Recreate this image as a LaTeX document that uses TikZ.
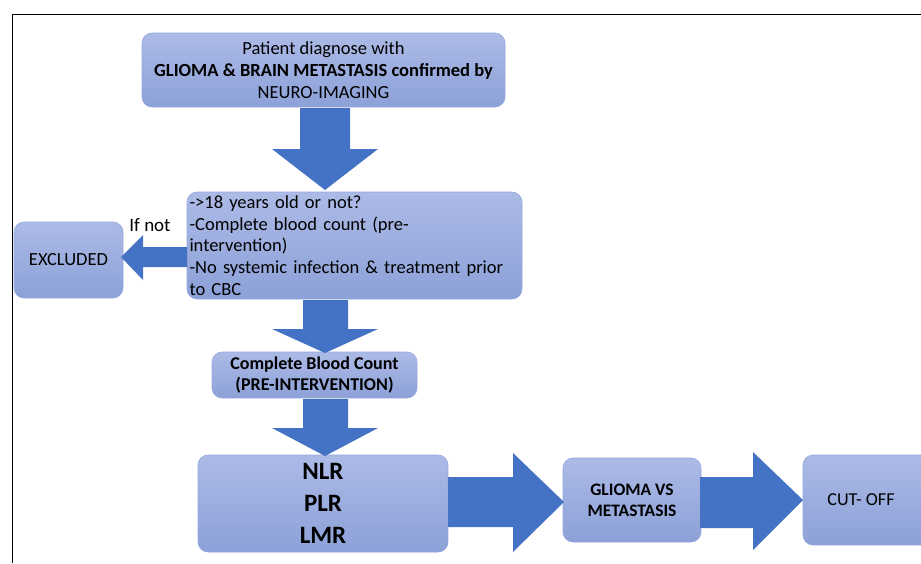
\documentclass[tikz,border=0pt]{standalone}
\usepackage{fontspec}
\setmainfont{Carlito}
\definecolor{arrowblue}{RGB}{68,114,196}
\definecolor{boxtop}{RGB}{172,186,230}
\definecolor{boxbot}{RGB}{140,161,216}
\definecolor{boxline}{RGB}{150,168,222}
\tikzset{
  box/.style={rounded corners=10pt, top color=boxtop, bottom color=boxbot, draw=boxline, line width=0.6pt, inner sep=2pt, text=black},
  fat/.style={fill=arrowblue, draw=none},
}
\begin{document}
\begin{tikzpicture}[x=1pt,y=-1pt]
\useasboundingbox (0,0) rectangle (921,563);
\clip (0,0) rectangle (921,563);
\draw[line width=1pt] (921,14) -- (12,14) -- (12,563);
% nodes
\node[box, minimum width=363pt, minimum height=74pt, align=center, font=\fontsize{18.5}{22}\selectfont] (diag) at (323.5,70)
  {Patient diagnose with\\ \textbf{GLIOMA \& BRAIN METASTASIS confirmed by}\\ NEURO-IMAGING};
\node[box, minimum width=335pt, minimum height=107pt, text width=330pt, align=left, font=\fontsize{18.5}{21.7}\selectfont] (crit) at (354.5,245.5)
  {->18 years old or not?\\ -Complete blood count (pre-\\ intervention)\\ -No systemic infection \& treatment prior\\ to CBC};
\node[box, minimum width=109pt, minimum height=76pt, font=\fontsize{18.5}{20}\selectfont] (excl) at (68.5,260) {EXCLUDED};
\node[font=\fontsize{19}{20}\selectfont] (ifnot) at (150,225) {If not};
\node[box, minimum width=205pt, minimum height=46pt, align=center, font=\bfseries\fontsize{18}{21}\selectfont] (cbc) at (314.5,375)
  {Complete Blood Count\\ (PRE-INTERVENTION)};
\node[box, minimum width=250pt, minimum height=97pt, align=center, font=\bfseries\fontsize{25}{32}\selectfont] (nlr) at (323,503.5)
  {NLR\\ PLR\\ LMR};
\node[box, minimum width=138pt, minimum height=84pt, align=center, font=\bfseries\fontsize{17.5}{21}\selectfont] (gv) at (632,500)
  {GLIOMA VS\\ METASTASIS};
\node[box, minimum width=130pt, minimum height=90pt, font=\fontsize{18.2}{20}\selectfont] (cut) at (868,500) {\hspace*{-14pt}CUT- OFF};
% fat arrows
\fill[fat] (300,108) -- (350,108) -- (350,149) -- (378,149) -- (325,190) -- (272,149) -- (300,149) -- cycle;
\fill[fat] (187,247) -- (143,247) -- (143,235) -- (121,257) -- (143,280) -- (143,267) -- (187,267) -- cycle;
\fill[fat] (303,300) -- (348,300) -- (348,329) -- (378,329) -- (325,353) -- (272,329) -- (303,329) -- cycle;
\fill[fat] (303,399) -- (348,399) -- (348,428) -- (378,428) -- (325,456) -- (272,428) -- (303,428) -- cycle;
\fill[fat] (448,477) -- (513,477) -- (513,453) -- (564,502) -- (513,552) -- (513,527) -- (448,527) -- cycle;
\fill[fat] (700,477) -- (753,477) -- (753,452) -- (803,500) -- (753,550) -- (753,528) -- (700,528) -- cycle;
\end{tikzpicture}
\end{document}
